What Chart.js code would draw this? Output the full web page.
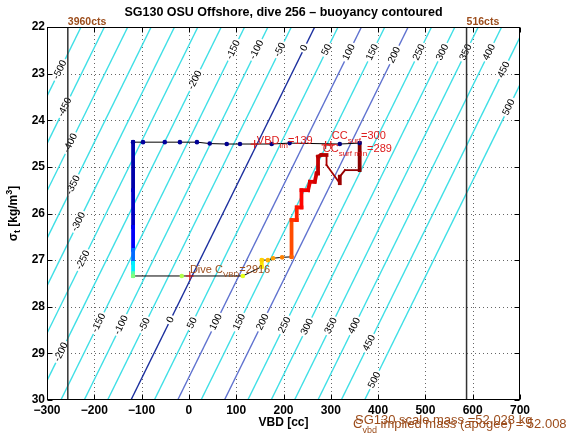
<!DOCTYPE html>
<html>
<head>
<meta charset="utf-8">
<title>SG130 dive 256 - buoyancy contoured</title>
<script src="https://cdn.jsdelivr.net/npm/chart.js@4.4.1/dist/chart.umd.min.js"></script>
<style>
  html, body { margin: 0; padding: 0; background: #fff; }
</style>
</head>
<body>
<canvas id="chart" width="570" height="439"></canvas>
<script>
// Axes
const vbdTicks = [-300, -200, -100, 0, 100, 200, 300, 400, 500, 600, 700];
const sigmaTicks = [22, 23, 24, 25, 26, 27, 28, 29, 30];

// Buoyancy contours [g] - straight lines
const contourLevels = [-500, -450, -400, -350, -300, -250, -200, -150, -100, -50, 0, 50, 100, 150, 200, 250, 300, 350, 400, 450, 500];
const highlightLevels = [0, 100, 200];
const zeroLineSigma = [22, 30]; // where the 0 g contour is read
const zeroLineVbd = [266, -122.5]; // its VBD there
const ccPerGram = 0.988; // contour spacing along VBD

// Inline contour labels (level, sigma where the label sits)
const labelLevels = [
  -200, -150, -100, -50, 0, 50, 100, 150, 200, 250, 300, 350, 400, 450, 500,
  -500, -450, -400, -350, -300, -250,
  -200, -150, -100, -50, 0, 50, 100, 150, 200, 250, 300, 350, 400, 450, 500
];
const labelSigma = [
  23.14, 22.49, 22.49, 22.49, 22.45, 22.49, 22.54, 22.54, 22.6, 22.54, 22.54, 22.54, 22.54, 22.92, 23.72,
  22.92, 23.72, 24.49, 25.39, 26.18, 27.0,
  28.97, 28.35, 28.39, 28.39, 28.28, 28.35, 28.33, 28.33, 28.33, 28.39, 28.43, 28.41, 28.41, 28.78, 29.57
];

// Dive track: VBD [cc], sigma_t, normalised time, phase
const trajVbd = [
  361, 319, 213, 175, 108, 80, 44, 17, -19, -51, -97, -118,
  -118, -118, -118, -118, -118, -118,
  -15, 114,
  154, 154, 167, 178, 197, 217,
  217, 228, 228, 238, 238, 252, 256, 266, 270, 273, 273, 280, 291,
  291, 319, 319, 330, 361, 361
];
const trajSigma = [
  24.49, 24.51, 24.49, 24.51, 24.51, 24.51, 24.50, 24.47, 24.47, 24.47, 24.47, 24.47,
  25.5, 26.29, 26.78, 27.06, 27.28, 27.34,
  27.34, 27.34,
  27.14, 27.0, 27.0, 26.96, 26.94, 26.93,
  26.14, 26.14, 25.87, 25.87, 25.5, 25.5, 25.32, 25.32, 25.14, 25.14, 24.78, 24.745, 24.745,
  24.96, 25.35, 25.21, 25.07, 25.07, 24.49
];
const trajT = [
  0, 0.003, 0.006, 0.009, 0.012, 0.015, 0.018, 0.021, 0.024, 0.027, 0.03, 0.033,
  0.05, 0.08, 0.16, 0.30, 0.42, 0.50,
  0.55, 0.60,
  0.64, 0.67, 0.70, 0.72, 0.75, 0.78,
  0.82, 0.83, 0.85, 0.86, 0.88, 0.89, 0.90, 0.91, 0.92, 0.93, 0.94, 0.945, 0.95,
  0.96, 0.97, 0.975, 0.98, 0.985, 1.0
];
const trajPhase = [
  'pump', 'pump', 'pump', 'pump', 'pump', 'pump', 'pump', 'pump', 'pump', 'pump', 'pump', 'pump',
  'glide', 'glide', 'glide', 'glide', 'glide', 'glide',
  'pump', 'pump',
  'pump', 'glide', 'pump', 'pump', 'pump', 'pump',
  'glide', 'glide', 'glide', 'glide', 'glide', 'glide', 'glide', 'glide', 'glide', 'glide', 'glide', 'glide', 'glide',
  'drift', 'drift', 'glide', 'drift', 'drift', 'glide'
];

// Red + marks: VBD_lm, CC_surf, CC_surf min, dive C_VBD
const markVbd = [139, 300, 289, 2];
const markSigma = [24.51, 24.53, 24.53, 27.34];

// Pump count limits
const ctsVbd = [-256, 587];
const ctsText = ['3960cts', '516cts'];

const FONT = '"Liberation Sans", Arial, Helvetica, sans-serif';
const RED = '#dd1c1c';
const BROWN = '#9c4d1c';

// text notes anchored at (vbd, sigma): [text, size, dy]
const notes = [
  { vbd: 143.7, sigma: 24.445, color: RED, runs: [['VBD', 11, 0], ['lm', 8, 5], ['=139', 11, 0]] },
  { vbd: 302, sigma: 24.338, color: RED, runs: [['CC', 11, 0], ['surf', 8, 5], ['=300', 11, 0]] },
  { vbd: 283, sigma: 24.617, color: RED, runs: [['CC', 11, 0], ['surf min', 8, 5], ['=289', 11, 0]] },
  { vbd: 2.1, sigma: 27.21, color: BROWN, runs: [['Dive C', 11, 0], ['VBD', 8, 5], ['=2916', 11, 0]] }
];

function jet(t) {
  const c = (v) => Math.round(255 * Math.max(0, Math.min(1, v)));
  return `rgb(${c(1.5 - Math.abs(4 * t - 3))},${c(1.5 - Math.abs(4 * t - 2))},${c(1.5 - Math.abs(4 * t - 1))})`;
}

function contourVbd(level, sigma) {
  const f = (sigma - zeroLineSigma[0]) / (zeroLineSigma[1] - zeroLineSigma[0]);
  return zeroLineVbd[0] + (zeroLineVbd[1] - zeroLineVbd[0]) * f + ccPerGram * level;
}

function drawRuns(ctx, x, y, runs, color, weight) {
  ctx.fillStyle = color;
  ctx.textAlign = 'left';
  ctx.textBaseline = 'middle';
  runs.forEach(([text, size, dy]) => {
    ctx.font = `${weight || 'normal'} ${size}px ${FONT}`;
    ctx.fillText(text, x, y + dy);
    x += ctx.measureText(text).width;
  });
}

function runsWidth(ctx, runs, weight) {
  let w = 0;
  runs.forEach(([text, size]) => {
    ctx.font = `${weight || 'normal'} ${size}px ${FONT}`;
    w += ctx.measureText(text).width;
  });
  return w;
}

const datasets = [];

contourLevels.forEach((level) => {
  let color = '#3fdfe6';
  if (highlightLevels.includes(level)) color = level === 0 ? '#1b2f9e' : '#5f72cf';
  datasets.push({
    role: 'contour',
    data: zeroLineSigma.map((s) => ({ x: contourVbd(level, s), y: s })),
    showLine: true,
    borderColor: color,
    borderWidth: 1.4,
    pointRadius: 0,
    order: 10,
  });
});

ctsVbd.forEach((v) => {
  datasets.push({
    role: 'cts',
    data: [{ x: v, y: sigmaTicks[0] }, { x: v, y: sigmaTicks[sigmaTicks.length - 1] }],
    showLine: true,
    borderColor: '#333',
    borderWidth: 1.5,
    pointRadius: 0,
    order: 5,
  });
});

const widthFor = { pump: 1, glide: 3.8, drift: 1.8 };
datasets.push({
  role: 'track',
  data: trajVbd.map((v, i) => ({ x: v, y: trajSigma[i] })),
  showLine: true,
  borderColor: '#000',
  borderWidth: 1,
  borderCapStyle: 'square',
  segment: {
    borderColor: (ctx) =>
      trajPhase[ctx.p1DataIndex] === 'pump'
        ? '#000'
        : jet((trajT[ctx.p0DataIndex] + trajT[ctx.p1DataIndex]) / 2),
    borderWidth: (ctx) => widthFor[trajPhase[ctx.p1DataIndex]],
  },
  pointRadius: trajPhase.map((p, i) => (p === 'pump' || trajPhase[i + 1] === 'pump' ? 2.3 : 0)),
  pointBackgroundColor: trajT.map(jet),
  pointBorderWidth: 0,
  order: 2,
});

datasets.push({
  role: 'marks',
  data: markVbd.map((v, i) => ({ x: v, y: markSigma[i] })),
  pointStyle: 'cross',
  pointRadius: 4,
  borderColor: RED,
  pointBorderColor: RED,
  pointBorderWidth: 1.2,
  showLine: false,
  order: 1,
});

const ink = {
  id: 'ink',
  beforeDatasetsDraw(chart) {
    // dotted grid
    const { ctx, chartArea: a, scales: { x, y } } = chart;
    ctx.save();
    ctx.strokeStyle = 'rgba(0,0,0,0.6)';
    ctx.lineWidth = 1;
    ctx.setLineDash([1, 3]);
    vbdTicks.slice(1, -1).forEach((v) => {
      const px = Math.round(x.getPixelForValue(v)) + 0.5;
      ctx.beginPath(); ctx.moveTo(px, a.bottom); ctx.lineTo(px, a.top); ctx.stroke();
    });
    sigmaTicks.slice(1, -1).forEach((s) => {
      const py = Math.round(y.getPixelForValue(s)) + 0.5;
      ctx.beginPath(); ctx.moveTo(a.left, py); ctx.lineTo(a.right, py); ctx.stroke();
    });
    ctx.restore();
  },
  afterDatasetDraw(chart, args) {
    // contour labels once every contour line is down (index 0 is drawn last)
    if (args.index !== 0) return;
    const { ctx, chartArea: a, scales: { x, y } } = chart;
    ctx.save();
    ctx.beginPath(); ctx.rect(a.left, a.top, a.right - a.left, a.bottom - a.top); ctx.clip();
    ctx.font = `10px ${FONT}`;
    labelLevels.forEach((level, i) => {
      const s = labelSigma[i];
      const px = x.getPixelForValue(contourVbd(level, s));
      const py = y.getPixelForValue(s);
      const dx = x.getPixelForValue(contourVbd(level, 30)) - x.getPixelForValue(contourVbd(level, 22));
      const dy = y.getPixelForValue(30) - y.getPixelForValue(22);
      const ang = Math.atan2(-dy, -dx);
      const txt = String(level);
      const w = ctx.measureText(txt).width;
      ctx.save();
      ctx.translate(px, py);
      ctx.rotate(ang);
      ctx.fillStyle = '#fff';
      ctx.fillRect(-w / 2 - 2, -2.5, w + 4, 5);
      ctx.fillStyle = '#000';
      ctx.textAlign = 'center';
      ctx.textBaseline = 'middle';
      ctx.fillText(txt, 0, 0);
      ctx.restore();
    });
    ctx.restore();
  },
  afterDatasetsDraw(chart) {
    const { ctx, chartArea: a, scales: { x, y } } = chart;
    // notes on the track
    notes.forEach((n) => {
      drawRuns(ctx, x.getPixelForValue(n.vbd), y.getPixelForValue(n.sigma), n.runs, n.color);
    });
    // box and inward ticks
    ctx.save();
    ctx.strokeStyle = '#000';
    ctx.lineWidth = 1;
    const L = Math.round(a.left) + 0.5, R = Math.round(a.right) - 0.5;
    const T = Math.round(a.top) + 0.5, B = Math.round(a.bottom) - 0.5;
    ctx.strokeRect(L, T, R - L, B - T);
    ctx.beginPath();
    vbdTicks.forEach((v) => {
      const px = Math.round(x.getPixelForValue(v)) + 0.5;
      ctx.moveTo(px, B); ctx.lineTo(px, B - 5);
      ctx.moveTo(px, T); ctx.lineTo(px, T + 5);
    });
    sigmaTicks.forEach((s) => {
      const py = Math.round(y.getPixelForValue(s)) + 0.5;
      ctx.moveTo(L, py); ctx.lineTo(L + 5, py);
      ctx.moveTo(R, py); ctx.lineTo(R - 5, py);
    });
    ctx.stroke();
    ctx.restore();
  },
  afterDraw(chart) {
    const { ctx, chartArea: a, scales: { x } } = chart;
    ctx.save();
    ctx.fillStyle = '#000';
    ctx.textAlign = 'center';
    ctx.textBaseline = 'middle';
    ctx.font = `bold 12.5px ${FONT}`;
    ctx.fillText('SG130 OSU Offshore, dive 256 \u2013 buoyancy contoured', (a.left + a.right) / 2, 13);
    ctx.font = `bold 12px ${FONT}`;
    ctx.fillText('VBD [cc]', (a.left + a.right) / 2, 423);

    // y label: sigma_t [kg/m^3]
    const yRuns = [['\u03c3', 12, 0], ['t', 9, 4], [' [kg/m', 12, 0], ['3', 9, -4], [']', 12, 0]];
    const w = runsWidth(ctx, yRuns, 'bold');
    ctx.translate(14, (a.top + a.bottom) / 2);
    ctx.rotate(-Math.PI / 2);
    drawRuns(ctx, -w / 2, 0, yRuns, '#000', 'bold');
    ctx.restore();

    // count limits
    ctx.save();
    ctsVbd.forEach((v, i) => {
      drawRuns(ctx, x.getPixelForValue(v), 22, [[ctsText[i], 10.5, 0]], BROWN, 'bold');
    });
    // mass notes
    drawRuns(ctx, 355, 420, [['SG130 scale mass =52.028 kg', 13, 0]], BROWN);
    drawRuns(ctx, 353, 424, [['C', 13, 0], ['vbd', 9, 7], [' implied mass (apogee) = 52.008', 13, 0]], BROWN);
    ctx.restore();
  },
};

const tickFont = { family: FONT, size: 12, weight: 'bold' };

new Chart(document.getElementById('chart'), {
  type: 'scatter',
  data: { datasets },
  options: {
    responsive: false,
    animation: false,
    events: [],
    layout: { padding: { left: 0, right: 50, top: 27, bottom: 0 } },
    plugins: { legend: { display: false }, tooltip: { enabled: false } },
    scales: {
      x: {
        type: 'linear',
        min: vbdTicks[0],
        max: vbdTicks[vbdTicks.length - 1],
        afterBuildTicks: (s) => { s.ticks = vbdTicks.map((v) => ({ value: v })); },
        afterFit: (s) => { s.height = 39; },
        ticks: {
          color: '#000',
          font: tickFont,
          padding: 3,
          maxRotation: 0,
          autoSkip: false,
          callback: (v) => String(v).replace('-', '\u2212'),
        },
        grid: { display: false, drawTicks: false, tickLength: 0 },
        border: { display: false },
      },
      y: {
        type: 'linear',
        reverse: true,
        min: sigmaTicks[0],
        max: sigmaTicks[sigmaTicks.length - 1],
        afterBuildTicks: (s) => { s.ticks = sigmaTicks.map((v) => ({ value: v })); },
        afterFit: (s) => { s.width = 47; },
        ticks: { color: '#000', font: tickFont, padding: 2, autoSkip: false },
        grid: { display: false, drawTicks: false, tickLength: 0 },
        border: { display: false },
      },
    },
  },
  plugins: [ink],
});
</script>
</body>
</html>
